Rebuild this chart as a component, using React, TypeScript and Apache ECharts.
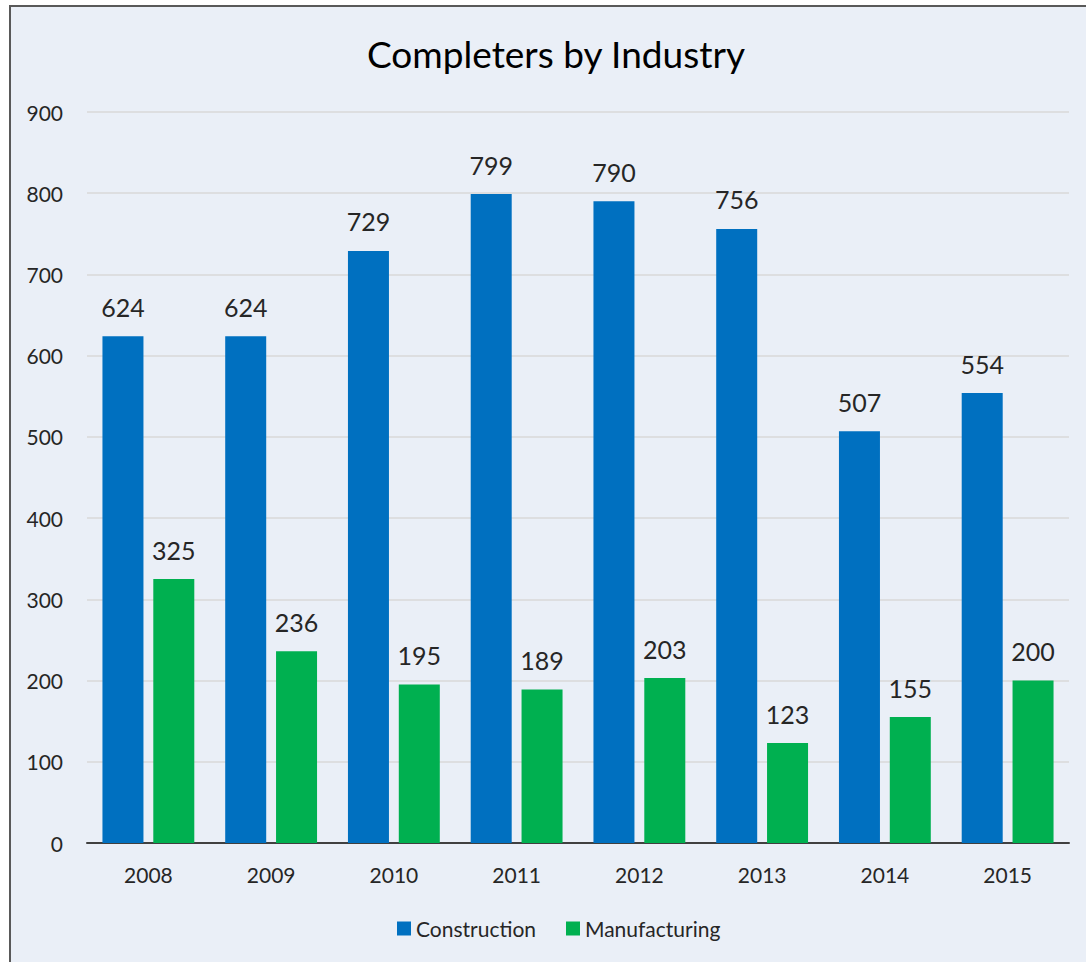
import React, { useEffect, useRef } from "react";
import * as echarts from "echarts";

const categories = ["2008", "2009", "2010", "2011", "2012", "2013", "2014", "2015"];
const construction = [624, 624, 729, 799, 790, 756, 507, 554];
const manufacturing = [325, 236, 195, 189, 203, 123, 155, 200];
const seriesNames = ["Construction", "Manufacturing"];
const titleText = "Completers by Industry";

const FONT = "Lato, 'Open Sans', sans-serif";

export default function App() {
  const ref = useRef<HTMLDivElement>(null);
  useEffect(() => {
    document.body.style.margin = "0";
    if (!ref.current) return;
    const chart = echarts.init(ref.current, null, { renderer: "svg" });
    const labelStyle = {
      show: true,
      position: "top",
      distance: 17,
      fontSize: 25,
      color: "#262626",
      fontFamily: FONT,
    };
    chart.setOption({
      animation: false,
      backgroundColor: "#ffffff",
      textStyle: { fontFamily: FONT },
      graphic: [
        {
          type: "rect",
          z: -10,
          shape: { x: 10, y: 6, width: 1100, height: 1000 },
          style: { fill: "#EAEFF7", stroke: "#595959", lineWidth: 2 },
          silent: true,
        },
        {
          type: "text",
          x: 556,
          y: 53,
          style: {
            text: titleText,
            fill: "#000000",
            fontSize: 37,
            fontFamily: FONT,
            textAlign: "center",
            textVerticalAlign: "middle",
          },
        },
      ],
      legend: {
        left: 392,
        top: 913,
        itemWidth: 14,
        itemHeight: 14,
        itemGap: 30,
        icon: "rect",
        textStyle: { fontSize: 21, color: "#262626", fontFamily: FONT },
        data: seriesNames,
      },
      grid: { left: 87, right: 17, top: 112, bottom: 119, containLabel: false },
      xAxis: {
        type: "category",
        data: categories,
        axisTick: { show: false },
        axisLine: { lineStyle: { color: "#404040", width: 2 } },
        axisLabel: { fontSize: 21, color: "#262626", margin: 21, fontFamily: FONT },
      },
      yAxis: {
        type: "value",
        min: 0,
        max: 900,
        interval: 100,
        axisLine: { show: false },
        axisTick: { show: false },
        splitLine: { lineStyle: { color: "#D9D9D9", width: 1.5 } },
        axisLabel: { fontSize: 21, color: "#262626", margin: 24, fontFamily: FONT },
      },
      series: [
        {
          name: seriesNames[0],
          type: "bar",
          data: construction,
          barWidth: 41,
          barGap: "24%",
          itemStyle: { color: "#0070C0" },
          label: labelStyle,
        },
        {
          name: seriesNames[1],
          type: "bar",
          data: manufacturing,
          barWidth: 41,
          barGap: "24%",
          itemStyle: { color: "#00B050" },
          label: labelStyle,
        },
      ],
    });
    return () => chart.dispose();
  }, []);
  return <div ref={ref} style={{ width: 1086, height: 962 }} />;
}
